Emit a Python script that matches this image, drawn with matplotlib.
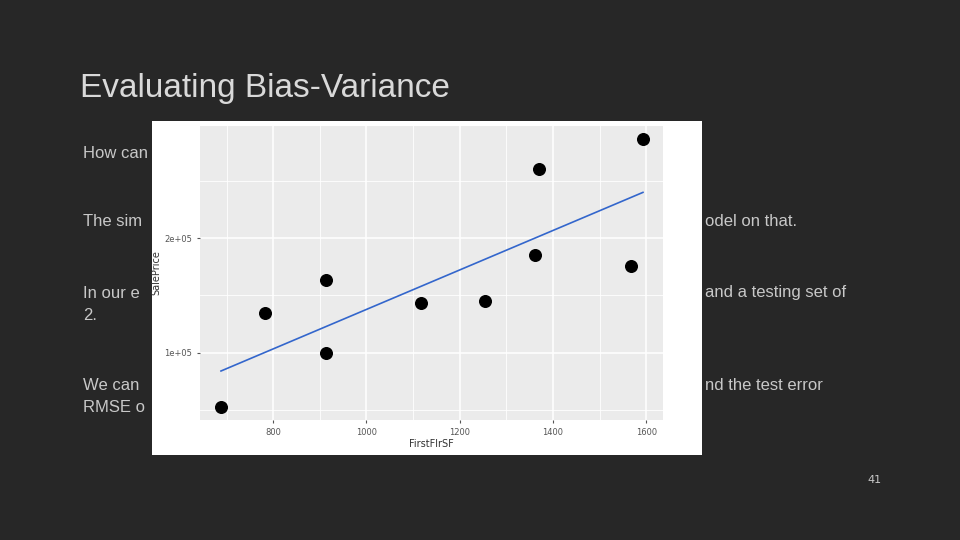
import numpy as np
import matplotlib
matplotlib.use("Agg")
import matplotlib.pyplot as plt

first_flr_sf = [688, 782, 914, 914, 1118, 1255, 1361, 1370, 1568, 1593]
sale_price = [52200, 135000, 163600, 99400, 143000, 145000, 185700, 260300, 176000, 286600]
x_ticks = [800, 1000, 1200, 1400, 1600]
y_ticks = [100000, 200000]
y_labels = ["1e+05", "2e+05"]

fig = plt.figure(figsize=(9.6, 5.4), dpi=100)
fig.patch.set_facecolor("#272727")

fig.text(80/960, 1-88/540, "Evaluating Bias-Variance", color="#d9d9d9", fontsize=24,
         va="center", ha="left", family="Liberation Sans")
tc = "#c8c8c8"
lines = [(83, 153, "How can"), (83, 222, "The sim"), (705, 222, "odel on that."),
         (83, 293, "In our e"), (705, 293, "and a testing set of"), (83, 316, "2."),
         (83, 385, "We can"), (705, 385, "nd the test error"), (83, 408, "RMSE o")]
for x, y, t in lines:
    fig.text(x/960, 1-y/540, t, color=tc, fontsize=12, va="center", ha="left",
             family="Liberation Sans")
fig.text(875/960, 1-480/540, "41", color=tc, fontsize=8, ha="center", va="center")

# white image box
box = fig.add_axes([152/960, 1-455/540, 550/960, 334/540])
box.set_facecolor("white"); box.set_xticks([]); box.set_yticks([])
for s in box.spines.values(): s.set_visible(False)

ax = fig.add_axes([200/960, 1-420/540, 463/960, 294/540])
ax.set_facecolor("#ebebeb")
ax.set_xlim(643, 1636); ax.set_ylim(41100, 298000)
ax.set_xticks(x_ticks); ax.set_yticks(y_ticks); ax.set_yticklabels(y_labels)
ax.set_xticks([700, 900, 1100, 1300, 1500], minor=True)
ax.set_yticks([50000, 150000, 250000], minor=True)
ax.grid(True, which="major", color="white", lw=1.1)
ax.grid(True, which="minor", color="white", lw=0.6)
ax.set_axisbelow(True)
for s in ax.spines.values(): s.set_visible(False)
ax.tick_params(which="both", length=2, colors="#555555", labelsize=6)
ax.tick_params(which="minor", length=0)
ax.set_xlabel("FirstFlrSF", fontsize=7, color="#333333", labelpad=2)
ax.set_ylabel("SalePrice", fontsize=7, color="#333333", labelpad=2)

ax.scatter(first_flr_sf, sale_price, s=70, color="black", zorder=3)
b, a = np.polyfit(first_flr_sf, sale_price, 1)
xs = np.array([min(first_flr_sf), max(first_flr_sf)])
ax.plot(xs, a + b*xs, color="#3366cc", lw=1.2, zorder=2)

fig.savefig("out.png", dpi=100, facecolor=fig.get_facecolor())
